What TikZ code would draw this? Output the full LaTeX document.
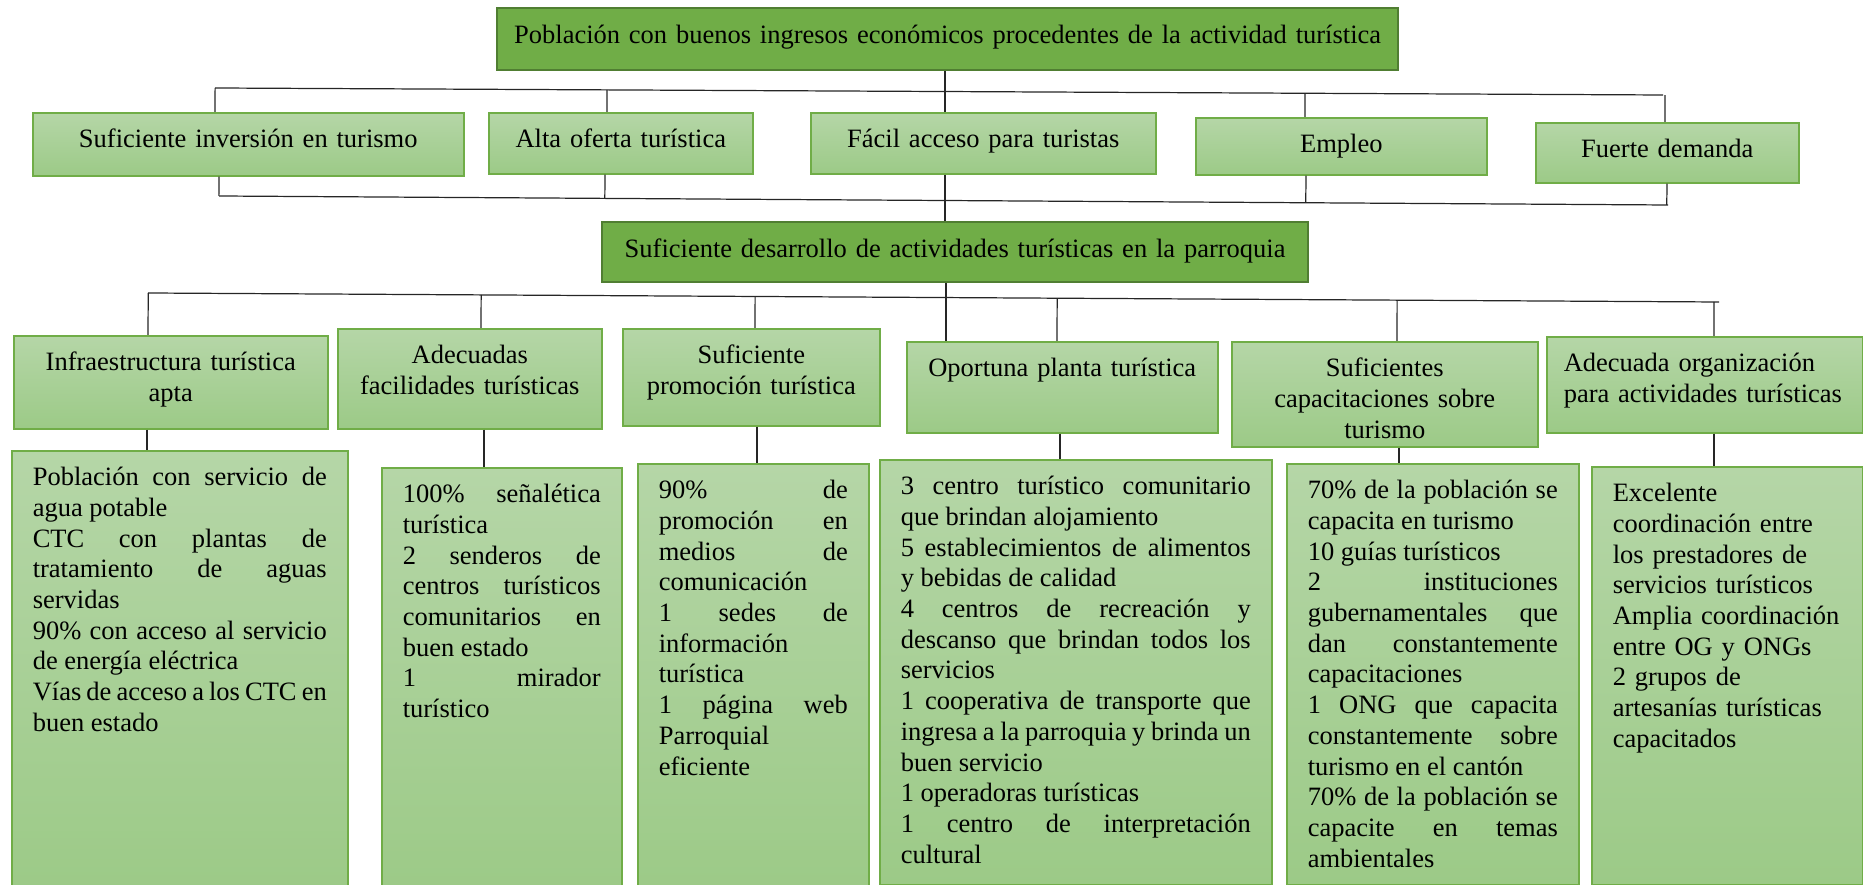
\documentclass[tikz,border=0pt]{standalone}
\usepackage{fontspec}
\setmainfont{Liberation Serif}
\usetikzlibrary{calc}
\definecolor{boxDark}{HTML}{70AD47}
\definecolor{boxDarkEdge}{HTML}{507E32}
\definecolor{boxLightTop}{HTML}{B5D6A7}
\definecolor{boxLightBot}{HTML}{9CCA87}
\definecolor{boxEdge}{HTML}{70AD47}
\tolerance=10000 \hbadness=10000 \hyphenpenalty=10000 \exhyphenpenalty=10000
% one pixel of the sheet, in pt
\newcommand{\pxu}{0.4528}
% style, name, x1, y1, x2, y2, side inset, text (first baseline 35px below top)
\newcommand{\gbox}[8]{%
  \pgfmathsetmacro{\bw}{(#5-#3-2*#7)*\pxu}%
  \pgfmathsetmacro{\bd}{(#6-#4-35)*\pxu}%
  \pgfmathsetmacro{\bh}{35*\pxu}%
  \pgfmathsetmacro{\bx}{#7*\pxu}%
  \node[#1,anchor=north west,inner xsep=\bx pt,inner ysep=0pt,
    text width=\bw pt,text height=\bh pt,text depth=\bd pt] (#2) at (#3,#4) {#8};
}

\begin{document}
\begin{tikzpicture}[x=0.4528pt,y=-0.4528pt,
  font=\fontsize{12}{13.9}\selectfont,
  dark/.style={draw=boxDarkEdge,line width=1pt,fill=boxDark,align=center},
  light/.style={draw=boxEdge,line width=0.7pt,top color=boxLightTop,
    bottom color=boxLightBot,align=center},
  list/.style={light,align=justify},
  link/.style={draw=black!85,line width=0.55pt}]
\useasboundingbox (0,0) rectangle (1863,885);

% Goal and its five effects.
\gbox{dark}{top}{496}{7}{1397}{69}{10}{Población con buenos ingresos económicos procedentes de la actividad turística}
\gbox{light}{sinv}{32}{112}{463}{175}{10}{Suficiente inversión en turismo}
\gbox{light}{alta}{488}{112}{752}{173}{10}{Alta oferta turística}
\gbox{light}{facil}{810}{112}{1155}{173}{10}{Fácil acceso para turistas}
\gbox{light}{empl}{1195}{117}{1486}{174}{10}{Empleo}
\gbox{light}{fuer}{1535}{122}{1798}{182}{10}{Fuerte demanda}

\gbox{dark}{mid}{601}{221}{1307}{281}{10}{Suficiente desarrollo de actividades turísticas en la parroquia}

% Means.
\gbox{light}{infra}{13}{335}{327}{428}{10}{Infraestructura turística\\ apta}
\gbox{light}{adec}{337}{328}{601}{428}{10}{Adecuadas\\ facilidades turísticas}
\gbox{light}{prom}{622}{328}{879}{425}{10}{Suficiente\\ promoción turística}
\gbox{light}{oport}{906}{341}{1217}{432}{10}{Oportuna planta turística}
\gbox{light}{capac}{1231}{341}{1537}{446}{10}{Suficientes\\ capacitaciones sobre\\ turismo}
\gbox{light,align=left}{organ}{1546}{336}{1862}{432}{17}{Adecuada organización\\ para actividades turísticas}

% Indicators under each mean.
\gbox{list}{leafa}{11}{450}{347}{892}{21}{%
  Población con servicio de\linebreak agua potable\par
  CTC con plantas de\linebreak tratamiento de aguas\linebreak servidas\par
  90\% con acceso al servicio\linebreak de energía eléctrica\par
  Vías de acceso a los CTC en\linebreak buen estado}
\gbox{list}{leafb}{381}{467}{621}{892}{21}{%
  100\% señalética\linebreak turística\par
  2 senderos de\linebreak centros turísticos\linebreak comunitarios en\linebreak buen estado\par
  1 mirador\linebreak turístico}
\gbox{list}{leafc}{637}{463}{868}{892}{21}{%
  90\% de\linebreak promoción en\linebreak medios de\linebreak comunicación\par
  1 sedes de\linebreak información\linebreak turística\par
  1 página web\linebreak Parroquial\linebreak eficiente}
\gbox{list}{leafd}{879}{459}{1271}{884}{21}{%
  3 centro turístico comunitario\linebreak que brindan alojamiento\par
  5 establecimientos de alimentos\linebreak y bebidas de calidad\par
  4 centros de recreación y\linebreak descanso que brindan todos los\linebreak servicios\par
  1 cooperativa de transporte que\linebreak ingresa a la parroquia y brinda un\linebreak buen servicio\par
  1 operadoras turísticas\par
  1 centro de interpretación\linebreak cultural}
\gbox{list}{leafe}{1286}{463}{1578}{884}{21}{%
  70\% de la población se\linebreak capacita en turismo\par
  10 guías turísticos\par
  2 instituciones\linebreak gubernamentales que\linebreak dan constantemente\linebreak capacitaciones\par
  1 ONG que capacita\linebreak constantemente sobre\linebreak turismo en el cantón\par
  70\% de la población se\linebreak capacite en temas\linebreak ambientales}
\gbox{light,align=left}{leaff}{1591}{466}{1862}{884}{21}{%
  Excelente\\ coordinación entre\\ los prestadores de\\ servicios turísticos\\
  Amplia coordinación\\ entre OG y ONGs\\ 2 grupos de\\ artesanías turísticas\\
  capacitados}

% Brackets (slightly tilted, as drawn).
\coordinate (ta) at (215,88);
\coordinate (tb) at (1663,95);
\coordinate (ba) at (219,196);
\coordinate (bb) at (1668,205);
\coordinate (ca) at (148,293);
\coordinate (cb) at (1719,302);
\draw[link] (ta) -- (tb);
\draw[link] (ba) -- (bb);
\draw[link] (ca) -- (cb);

\foreach \n/\x in {sinv/215,alta/607,empl/1305,fuer/1665}
  \draw[link] (\n.north -| \x,0) -- ($(ta)!(\n.north -| \x,0)!(tb)$);
\foreach \n/\x in {sinv/219,alta/605,empl/1306,fuer/1667}
  \draw[link] (\n.south -| \x,0) -- ($(ba)!(\n.south -| \x,0)!(bb)$);
\foreach \n/\x in {infra/148,adec/481,prom/755,oport/1057,capac/1397,organ/1714}
  \draw[link] (\n.north -| \x,0) -- ($(ca)!(\n.north -| \x,0)!(cb)$);

% Trunk through the middle.
\draw[link] (top.south -| 945,0) -- (facil.north -| 945,0);
\draw[link] (facil.south -| 945,0) -- (mid.north -| 945,0);
\draw[link] (mid.south -| 946,0) -- (oport.north -| 946,0);

% Each mean to its indicators.
\foreach \a/\b/\x in {infra/leafa/147,adec/leafb/484,prom/leafc/757,
  oport/leafd/1060,capac/leafe/1399,organ/leaff/1714}
  \draw[link] (\a.south -| \x,0) -- (\b.north -| \x,0);

\end{tikzpicture}
\end{document}
